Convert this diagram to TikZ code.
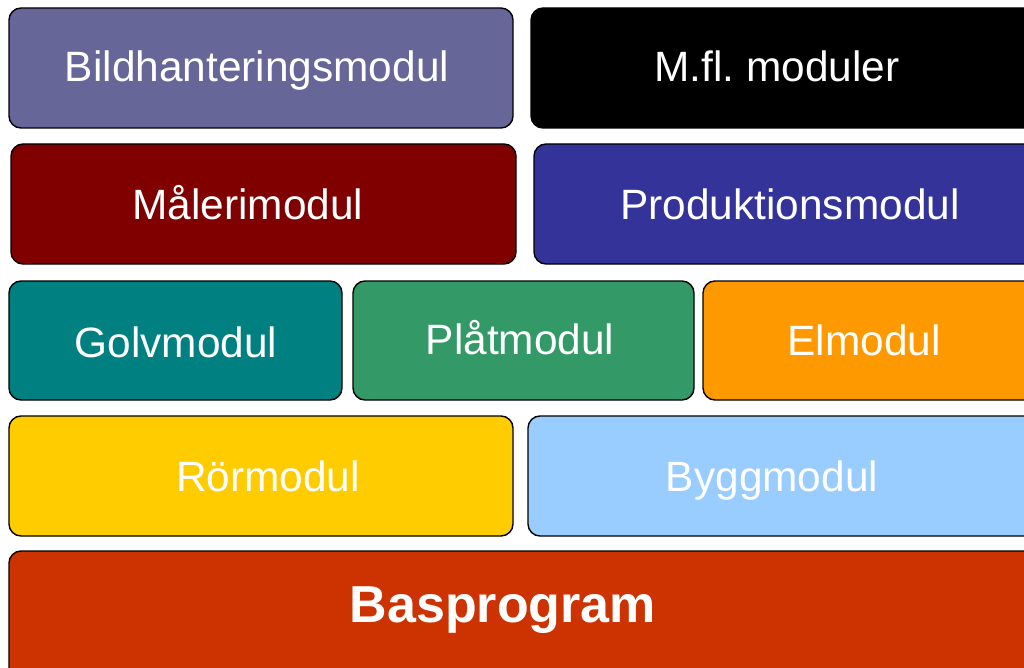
\documentclass[tikz,border=0pt]{standalone}
\usepackage{fontspec}
\setmainfont{Liberation Sans}
\frenchspacing
\begin{document}
\begin{tikzpicture}[x=1pt,y=-1pt]
\tikzset{ box/.style={draw=black, line width=1.4pt, rounded corners=12pt},
          lbl/.style={anchor=base, text=white, inner sep=0pt, font=\fontsize{42.4}{50}\selectfont},
          blbl/.style={lbl, font=\fontsize{52}{60}\selectfont\bfseries} }

\useasboundingbox (0,0) rectangle (1024,668);
\clip (0,0) rectangle (1024,668);

%\draw [lightgray, dashed](0,0) grid[step=100] (1024,668);

% boxes
\draw [box, fill={rgb,255:red,102;green,102;blue,153}] (9,8)   rectangle (513,128);
\draw [box, fill=black]                                 (531,8) rectangle (1060,128);

\draw [box, fill={rgb,255:red,128;green,0;blue,0}]      (11,144)  rectangle (516,264);
\draw [box, fill={rgb,255:red,51;green,51;blue,153}]    (534,144) rectangle (1060,264);

\draw [box, fill={rgb,255:red,0;green,128;blue,128}]    (9,281)   rectangle (342,400);
\draw [box, fill={rgb,255:red,51;green,153;blue,102}]   (353,281) rectangle (694,400);
\draw [box, fill={rgb,255:red,255;green,153;blue,0}]    (703,281) rectangle (1060,400);

\draw [box, fill={rgb,255:red,255;green,204;blue,0}]    (9,416)   rectangle (513,536);
\draw [box, fill={rgb,255:red,153;green,204;blue,255}]  (528,416) rectangle (1060,536);

\draw [box, fill={rgb,255:red,204;green,51;blue,0}]     (9,551)   rectangle (1060,700);

% labels
\node [lbl] (bild) at (257,82)  {Bildhanteringsmodul};
\node [lbl] (mfl)  at (777,82)  {M.fl. moduler};
\node [lbl] (male) at (248,219) {Målerimodul};
\node [lbl] (prod) at (790,219) {Produktionsmodul};
\node [lbl] (golv) at (176,357) {Golvmodul};
\node [lbl] (plat) at (520,354) {Plåtmodul};
\node [lbl] (el)   at (864,355) {Elmodul};
\node [lbl] (ror)  at (268,491) {Rörmodul};
\node [lbl] (bygg) at (772,491) {Byggmodul};
\node [blbl] (bas) at (503,622) {Basprogram};

\end{tikzpicture}
\end{document}
